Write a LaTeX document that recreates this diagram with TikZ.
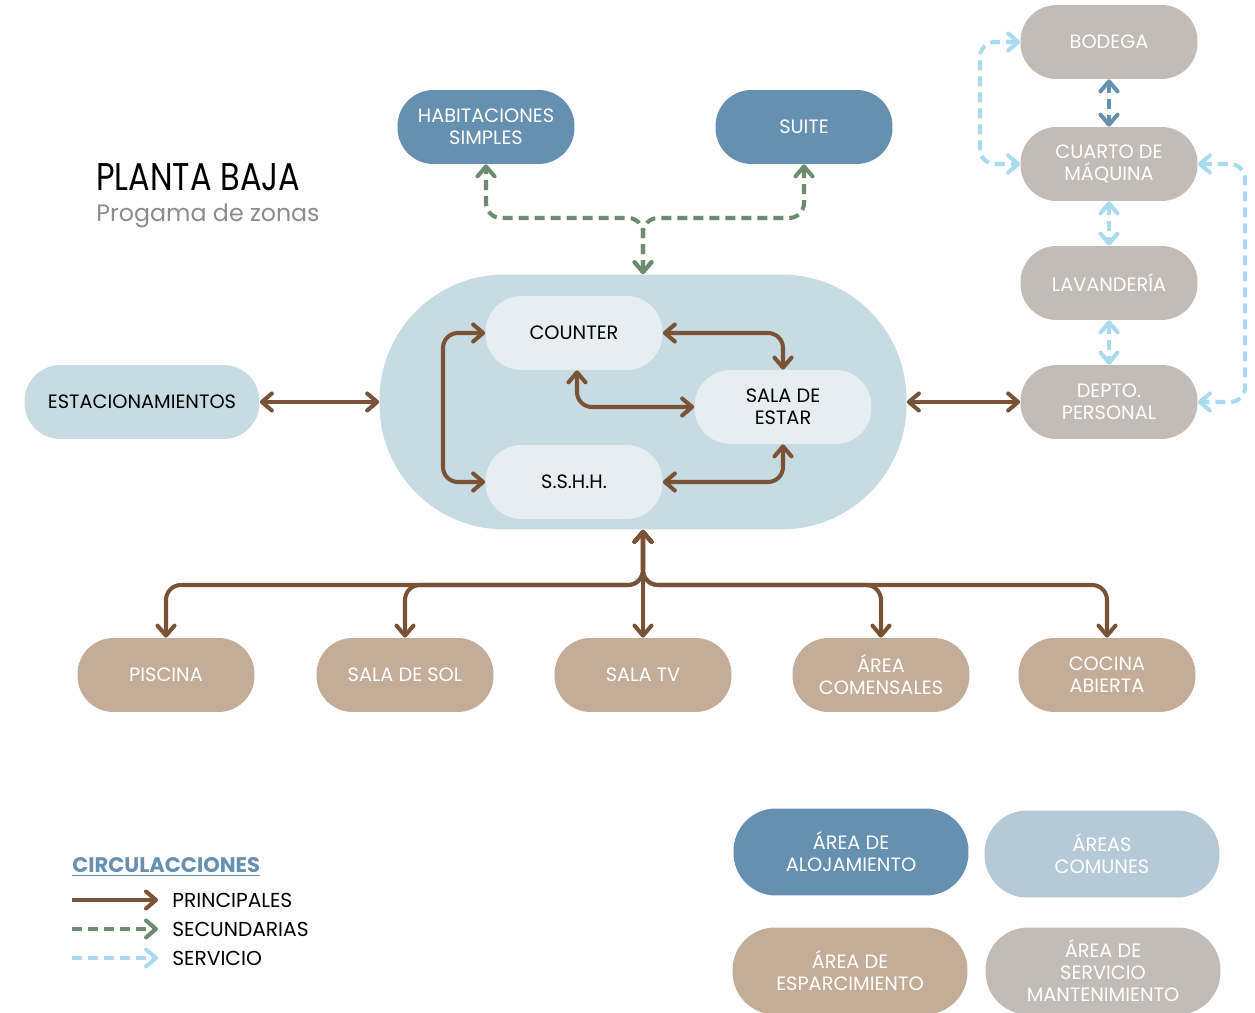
\documentclass[tikz,border=0pt]{standalone}
\usepackage{fontspec}
\setmainfont{Poppins}
\usetikzlibrary{arrows.meta}
\definecolor{alojamiento}{HTML}{6690B0}
\definecolor{comun}{HTML}{B6C9D6}
\definecolor{zonacomun}{HTML}{C7DBE3}
\definecolor{interior}{HTML}{E6EEF1}
\definecolor{esparcimiento}{HTML}{C4AD98}
\definecolor{servicio}{HTML}{C3BCB6}
\definecolor{principal}{HTML}{7A5236}
\definecolor{secundaria}{HTML}{6B8C6F}
\definecolor{serviciofl}{HTML}{A9DBEF}
\definecolor{gristexto}{HTML}{8C8C8C}
\begin{document}
\begin{tikzpicture}[x=0.02cm, y=-0.02cm,
    zona/.style={rounded corners=0.72cm, minimum width=3.54cm, minimum height=1.48cm,
        align=center, text=white, font=\fontsize{11}{12.5}\selectfont},
    leyenda/.style={zona, minimum width=4.7cm, minimum height=1.74cm, rounded corners=0.85cm},
    >={Straight Barb[round, length=2mm, width=3.4mm]},
    flecha/.style={line width=2.3pt, rounded corners=0.3cm},
    pri/.style={flecha, draw=principal},
    sec/.style={flecha, draw=secundaria, dash pattern=on 0.2cm off 0.12cm},
    ser/.style={flecha, draw=serviciofl, dash pattern=on 0.2cm off 0.12cm}]
\useasboundingbox (0,0) rectangle (1255,1013);

% titulo
\node[anchor=west, inner sep=0pt, font=\fontsize{22}{24}\selectfont] (titulo) at (96,177) {\scalebox{0.83}[1]{PLANTA BAJA}};
\node[anchor=west, inner sep=0pt, text=gristexto, font=\fontsize{13.5}{15}\selectfont] (subtitulo) at (96,216) {Progama de zonas};

% zona comun central
\node[fill=zonacomun, minimum width=10.54cm, minimum height=5.1cm, rounded corners=2.5cm] (centro) at (643,402) {};
\node[zona, fill=interior, text=black] (counter) at (574,333) {COUNTER};
\node[zona, fill=interior, text=black] (estar) at (783,407) {SALA DE\\ESTAR};
\node[zona, fill=interior, text=black] (sshh) at (574,482) {S.S.H.H.};
\node[zona, fill=zonacomun, text=black, minimum width=4.7cm] (estacionamientos) at (142,402) {ESTACIONAMIENTOS};

% alojamiento
\node[zona, fill=alojamiento] (habitaciones) at (486,127) {HABITACIONES\\SIMPLES};
\node[zona, fill=alojamiento] (suite) at (804,127) {SUITE};

% servicio
\node[zona, fill=servicio] (bodega) at (1109,42) {BODEGA};
\node[zona, fill=servicio] (cuarto) at (1109,164) {CUARTO DE\\MÁQUINA};
\node[zona, fill=servicio] (lavanderia) at (1109,283) {LAVANDERÍA};
\node[zona, fill=servicio] (depto) at (1109,402) {DEPTO.\\PERSONAL};

% esparcimiento
\node[zona, fill=esparcimiento] (piscina) at (166,675) {PISCINA};
\node[zona, fill=esparcimiento] (sol) at (405,675) {SALA DE SOL};
\node[zona, fill=esparcimiento] (tv) at (643,675) {SALA TV};
\node[zona, fill=esparcimiento] (comensales) at (881,675) {ÁREA\\COMENSALES};
\node[zona, fill=esparcimiento] (cocina) at (1107,675) {COCINA\\ABIERTA};

% circulaciones
\draw[sec, <->] (centro.north) -- (643,218) -| (habitaciones.south);
\draw[sec, <->] (centro.north) -- (643,218) -| (suite.south);
\draw[pri, <->] (estacionamientos.east) -- (centro.west);
\draw[pri, <->] (centro.east) -- (depto.west);
\draw[pri, <->] (counter.west) -- (443,333) |- (sshh.west);
\draw[pri, <->] (counter.east) -| (estar.north);
\draw[pri, <->] (sshh.east) -| (estar.south);
\draw[pri, <->] ([xshift=0.06cm]counter.south) |- (estar.west);
\foreach \n in {piscina, sol, comensales, cocina}
    \draw[pri, <->] (centro.south) -- (643,585) -| (\n.north);
\draw[pri, <->] (centro.south) -- (tv.north);
\draw[ser, <->] (bodega.west) -- (980,42) |- (cuarto.west);
\draw[ser, <->] (cuarto.east) -- (1245,164) |- (depto.east);
\draw[ser, <->] (cuarto.south) -- (lavanderia.north);
\draw[ser, <->] (lavanderia.south) -- (depto.north);
\draw[ser, <->, draw=alojamiento] (bodega.south) -- (cuarto.north);

% leyenda
\node[anchor=west, inner sep=0pt, text=alojamiento, font=\fontsize{12}{14}\bfseries] (circ) at (72,867) {\underline{CIRCULACCIONES}};
\node[anchor=west, inner sep=0pt, font=\fontsize{11.5}{13}\selectfont] (lprin) at (172,900) {PRINCIPALES};
\node[anchor=west, inner sep=0pt, font=\fontsize{11.5}{13}\selectfont] (lsec) at (172,929) {SECUNDARIAS};
\node[anchor=west, inner sep=0pt, font=\fontsize{11.5}{13}\selectfont] (lser) at (172,958) {SERVICIO};
\coordinate (p1) at (72,900);
\coordinate (p2) at (72,929);
\coordinate (p3) at (72,958);
\draw[pri, ->] (p1) -- ([xshift=-0.28cm]lprin.west);
\draw[sec, ->] (p2) -- ([xshift=-0.28cm]lsec.west);
\draw[ser, ->] (p3) -- ([xshift=-0.28cm]lser.west);

\node[leyenda, fill=alojamiento] (lalojamiento) at (851,852) {ÁREA DE\\ALOJAMIENTO};
\node[leyenda, fill=comun] (lcomunes) at (1102,854) {ÁREAS\\COMUNES};
\node[leyenda, fill=esparcimiento] (lesparcimiento) at (850,971) {ÁREA DE\\ESPARCIMIENTO};
\node[leyenda, fill=servicio] (lservicio) at (1103,971) {ÁREA DE\\SERVICIO\\MANTENIMIENTO};
\end{tikzpicture}
\end{document}
